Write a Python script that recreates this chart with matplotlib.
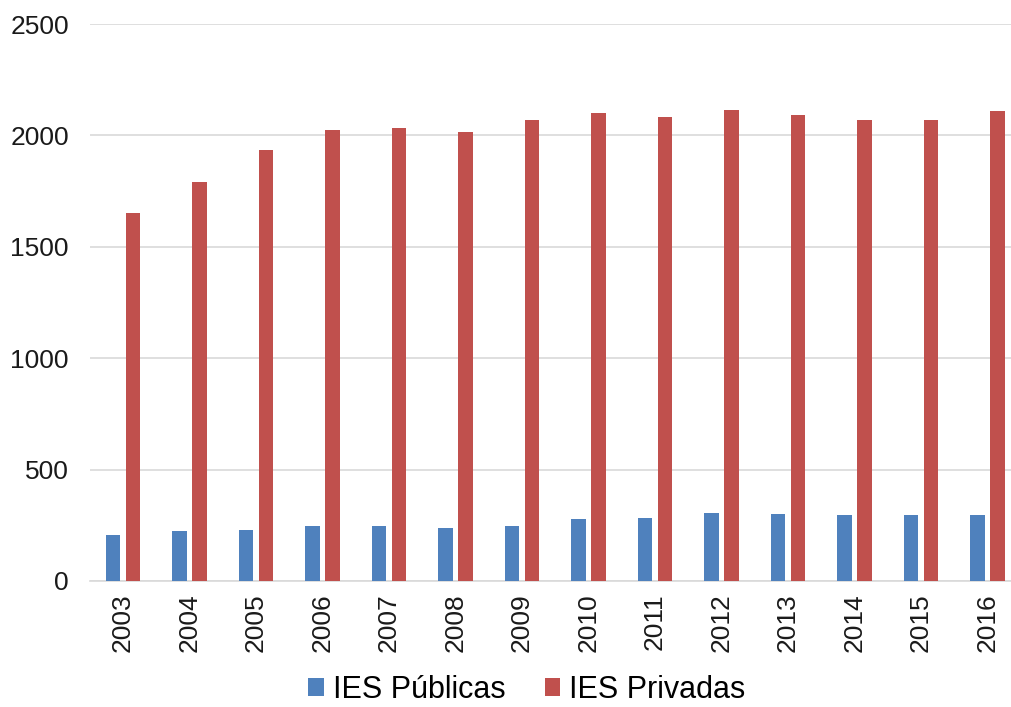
import matplotlib.pyplot as plt
import numpy as np

plt.rcParams['font.family'] = ['Liberation Sans', 'DejaVu Sans']

# Data
years = ['2003', '2004', '2005', '2006', '2007', '2008', '2009',
         '2010', '2011', '2012', '2013', '2014', '2015', '2016']
publicas = [207, 224, 231, 248, 249, 236, 245, 278, 284, 304, 301, 298, 295, 296]
privadas = [1652, 1789, 1934, 2022, 2032, 2016, 2069, 2100, 2081, 2112, 2090, 2070, 2069, 2111]

fig = plt.figure(figsize=(10.11, 7.07), dpi=100)
ax = fig.add_axes([89.75 / 1011, 1 - 581 / 707, 931 / 1011, 557 / 707])

x = np.arange(len(years))
w = 0.218
off = 0.147
ax.bar(x - off, publicas, w, color='#4f81bd', label='IES Públicas', zorder=3)
ax.bar(x + off, privadas, w, color='#c0504d', label='IES Privadas', zorder=3)

ax.set_xlim(-0.5, len(years) - 0.5)
ax.set_ylim(0, 2500)
ax.set_yticks([0, 500, 1000, 1500, 2000, 2500])
ax.grid(axis='y', color='#d9d9d9', linewidth=1.2, zorder=0)
ax.set_xticks(x)
ax.set_xticklabels(years, rotation=90)
ax.tick_params(axis='both', length=0, labelsize=19, colors='#1a1a1a')
ax.tick_params(axis='y', pad=15)
ax.tick_params(axis='x', pad=9)
for s in ['top', 'right', 'left']:
    ax.spines[s].set_visible(False)
ax.spines['bottom'].set_color('#d9d9d9')
ax.spines['bottom'].set_linewidth(1.2)

fig.legend(loc='center', bbox_to_anchor=(527 / 1011, 1 - 690 / 707), ncol=2,
           frameon=False, fontsize=22, handlelength=0.5, handleheight=0.5,
           handletextpad=0.3, columnspacing=1.3)

fig.savefig('out.png', dpi=100)
